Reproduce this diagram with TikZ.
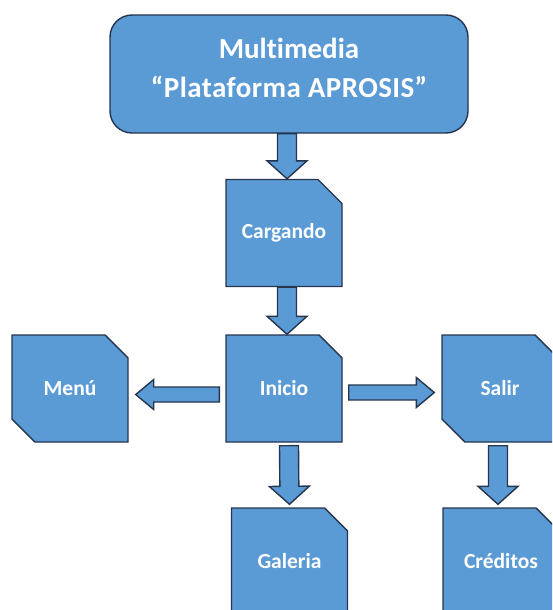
\documentclass[tikz,border=0pt]{standalone}
\usepackage{fontspec}
\setmainfont{Carlito}[Ligatures={NoCommon}]
\usetikzlibrary{positioning,calc,shapes.misc}
\definecolor{boxc}{HTML}{5B9BD5}
\definecolor{linec}{HTML}{26344D}

\begin{document}
\begin{tikzpicture}[x=1pt, y=-1pt, line width=1.4pt,
  screen/.style={chamfered rectangle, chamfered rectangle corners=north east,
    chamfered rectangle sep=12pt, draw=linec, fill=boxc, minimum width=116pt,
    minimum height=107pt, text=white, font=\fontsize{21.5}{26}\selectfont\bfseries},
  screen2/.style={screen, chamfered rectangle corners={north east, south west}},
  fat/.style 2 args={draw=linec, fill=boxc, to path={
    (\tikztostart) coordinate (fs) (\tikztotarget) coordinate (ft)
    ($(fs)!#1!90:(ft)$)
    -- ($(ft)!18pt!(fs)!#1!-90:(fs)$)
    -- ($(ft)!18pt!(fs)!#2!-90:(fs)$)
    -- (ft)
    -- ($(ft)!18pt!(fs)!#2!90:(fs)$)
    -- ($(ft)!18pt!(fs)!#1!90:(fs)$)
    -- ($(fs)!#1!-90:(ft)$) -- cycle}},
  vfat/.style={fat={9.5pt}{20pt}},
  hfat/.style={fat={7.5pt}{15pt}}]
  \clip (0,0) rectangle (552,610);
  % title
  \node[draw=linec, fill=boxc, rounded corners=22pt, minimum width=358pt, minimum height=118pt,
    align=center, text=white, text depth=13pt, font=\fontsize{29}{39}\selectfont\bfseries] (mm) at (289,74)
    {Multimedia\\\addfontfeatures{LetterSpace=1.5}“Plataforma APROSIS”};
  % screens
  \node[screen] (cgd) at (284,233) {Cargando};
  \node[screen] (ini) at (284,388.5) {Inicio};
  \node[screen2] (mnu) at (70,388.5) {Menú};
  \node[screen2] (sal) at (500,388.5) {Salir};
  \node[screen] (gal) at (289.5,561.5) {Galeria};
  \node[screen] (cre) at (501,561.5) {Créditos};
  % arrows
  \draw[vfat] ($(mm.south)+(-2,0)$) to ($(cgd.north)+(3,0)$);
  \draw[vfat] ($(cgd.south)+(3,0)$) to ($(ini.north)+(3,0)$);
  \draw[hfat] ($(ini.west)+(-6,6)$) to ($(mnu.east)+(7,6)$);
  \draw[hfat] ($(ini.east)+(6,4)$) to ($(sal.west)+(-7,4)$);
  \draw[vfat] ($(ini.south)+(5,3)$) to ($(gal.north)+(0,-3)$);
  \draw[vfat] ($(sal.south)+(-2,3)$) to ($(cre.north)+(-3,-3)$);
\end{tikzpicture}
\end{document}
